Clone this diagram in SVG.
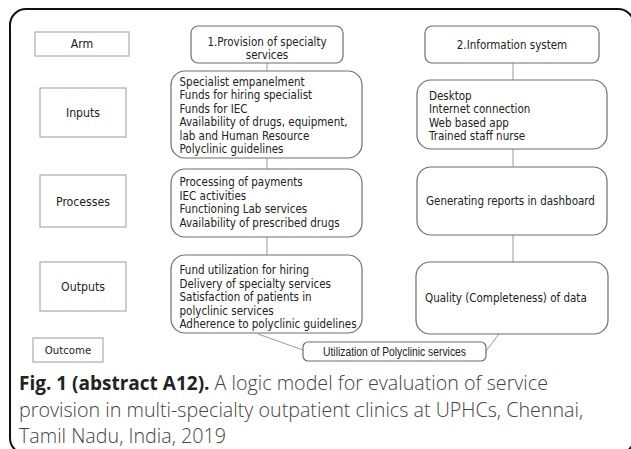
<svg xmlns="http://www.w3.org/2000/svg" width="631" height="449" viewBox="0 0 631 449">
<style>
.lab{fill:#fff;stroke:#9a9a9a;stroke-width:1}
.box{fill:#fff;stroke:#6e6e6e;stroke-width:1.2}
.t{font-family:"DejaVu Sans Condensed","DejaVu Sans",sans-serif;font-stretch:condensed;font-size:11.5px;fill:#222}
.tl{font-family:"DejaVu Sans Condensed","DejaVu Sans",sans-serif;font-stretch:condensed;font-size:12.2px;fill:#222;text-anchor:middle}
.c{stroke:#9a9a9a;stroke-width:1;fill:none}
.cap{font-family:"Open Sans",sans-serif;font-size:19.7px;fill:#444;font-weight:300}
</style>
<rect x="10" y="9" width="624" height="445" rx="16" fill="none" stroke="#111" stroke-width="2"/>
<g id="connectors">
<line class="c" x1="267" y1="63" x2="267" y2="71"/>
<line class="c" x1="267" y1="158" x2="267" y2="169"/>
<line class="c" x1="267" y1="237" x2="267" y2="255"/>
<line class="c" x1="513" y1="63" x2="513" y2="80"/>
<line class="c" x1="513" y1="149" x2="513" y2="167"/>
<line class="c" x1="513" y1="235" x2="513" y2="262"/>
<line class="c" x1="258" y1="334" x2="303" y2="350"/>
<line class="c" x1="486" y1="351" x2="499" y2="334"/>
</g>
<g id="arm"><rect class="lab" x="35" y="32" width="94" height="24"/><text class="tl" x="82" y="48">Arm</text></g>
<g id="inputs"><rect class="lab" x="40" y="88" width="86" height="49"/><text class="tl" x="83" y="117">Inputs</text></g>
<g id="processes"><rect class="lab" x="40" y="175" width="86" height="52"/><text class="tl" x="83" y="205.5">Processes</text></g>
<g id="outputs"><rect class="lab" x="40" y="262" width="86" height="49"/><text class="tl" x="83" y="291">Outputs</text></g>
<g id="outcome"><rect class="lab" x="33" y="338" width="70" height="24"/><text class="tl" x="68" y="354" style="font-size:11.3px">Outcome</text></g>
<g id="arm1"><rect class="box" x="191" y="26" width="152" height="37" rx="7"/>
<text class="t" x="267" y="46" text-anchor="middle">1.Provision of specialty</text>
<text class="t" x="267" y="58.5" text-anchor="middle">services</text></g>
<g id="inputs1"><rect class="box" x="171" y="71" width="191" height="87" rx="14"/>
<text class="t" x="179.5" y="85.5">Specialist empanelment</text>
<text class="t" x="179.5" y="99">Funds for hiring specialist</text>
<text class="t" x="179.5" y="112.5">Funds for IEC</text>
<text class="t" x="179.5" y="126">Availability of drugs, equipment,</text>
<text class="t" x="179.5" y="139.5">lab and Human Resource</text>
<text class="t" x="179.5" y="153">Polyclinic guidelines</text></g>
<g id="processes1"><rect class="box" x="171" y="169" width="191" height="68" rx="14"/>
<text class="t" x="179.5" y="186">Processing of payments</text>
<text class="t" x="179.5" y="199.5">IEC activities</text>
<text class="t" x="179.5" y="213">Functioning Lab services</text>
<text class="t" x="179.5" y="226.5">Availability of prescribed drugs</text></g>
<g id="outputs1"><rect class="box" x="171" y="255" width="191" height="78" rx="14"/>
<text class="t" x="179.5" y="274">Fund utilization for hiring</text>
<text class="t" x="179.5" y="287.5">Delivery of specialty services</text>
<text class="t" x="179.5" y="301">Satisfaction of patients in</text>
<text class="t" x="179.5" y="314.5">polyclinic services</text>
<text class="t" x="179.5" y="328">Adherence to polyclinic guidelines</text></g>
<g id="arm2"><rect class="box" x="425" y="26" width="174" height="37" rx="7"/>
<text class="t" x="512" y="49" text-anchor="middle">2.Information system</text></g>
<g id="inputs2"><rect class="box" x="417" y="80" width="190" height="69" rx="14"/>
<text class="t" x="429" y="99.5">Desktop</text>
<text class="t" x="429" y="113">Internet connection</text>
<text class="t" x="429" y="126.5">Web based app</text>
<text class="t" x="429" y="140">Trained staff nurse</text></g>
<g id="processes2"><rect class="box" x="417" y="167" width="190" height="68" rx="14"/>
<text class="t" x="426" y="204.5">Generating reports in dashboard</text></g>
<g id="outputs2"><rect class="box" x="416" y="262" width="192" height="72" rx="14"/>
<text class="t" x="425" y="302">Quality (Completeness) of data</text></g>
<g id="outcome1"><rect class="box" x="303" y="342" width="183" height="19" rx="5"/>
<text x="394.5" y="356" text-anchor="middle" textLength="143" lengthAdjust="spacingAndGlyphs" style="font-family:'Liberation Sans',Arial,sans-serif;font-size:12.5px;fill:#222">Utilization of Polyclinic services</text></g>
<g id="caption">
<text class="cap" x="19" y="390"><tspan font-weight="700" fill="#222" font-size="19px">Fig. 1 (abstract A12).</tspan> A logic model for evaluation of service</text>
<text class="cap" x="19" y="417">provision in multi-specialty outpatient clinics at UPHCs, Chennai,</text>
<text class="cap" x="19" y="443">Tamil Nadu, India, 2019</text>
</g>
</svg>
